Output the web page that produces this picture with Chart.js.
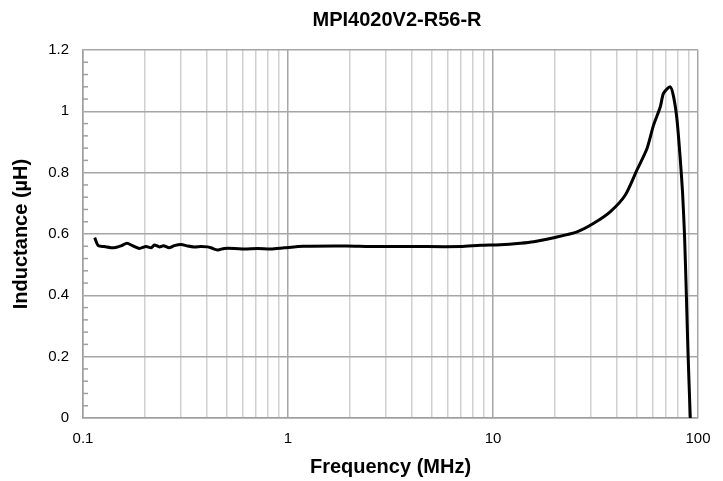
<!DOCTYPE html>
<html><head><meta charset="utf-8">
<script src="https://cdn.jsdelivr.net/npm/chart.js@4.4.0/dist/chart.umd.min.js"></script>
<style>html,body{margin:0;padding:0;background:#fff;overflow:hidden;}</style>
</head><body>
<canvas id="c" width="723" height="481" style="width:723px;height:481px;display:block"></canvas>
<script>
const chartTitle = 'MPI4020V2-R56-R';
const xAxisTitle = 'Frequency (MHz)';
const yAxisTitle = 'Inductance (µH)';
const xTickLabels = ['0.1', '1', '10', '100'];
const yTickLabels = ['0', '0.2', '0.4', '0.6', '0.8', '1', '1.2'];
const frequencyMHz = [0.114, 0.1187, 0.127, 0.142, 0.153, 0.164, 0.174, 0.188, 0.203, 0.215, 0.223, 0.236, 0.247, 0.263, 0.279, 0.301, 0.324, 0.349, 0.376, 0.405, 0.421, 0.453, 0.489, 0.548, 0.613, 0.711, 0.825, 0.96, 1.19, 1.94, 2.52, 4.10, 6.93, 8.67, 10.85, 13.6, 15.8, 19.8, 25.7, 31, 37.4, 44.2, 50.4, 56.4, 60.7, 65.5, 67.9, 73.2, 76.0, 79.0, 82.0, 84.1, 86.0, 87.7, 89.4, 91.7];
const inductanceUH = [0.588, 0.562, 0.559, 0.555, 0.561, 0.570, 0.562, 0.553, 0.559, 0.555, 0.564, 0.558, 0.562, 0.555, 0.562, 0.566, 0.561, 0.558, 0.559, 0.558, 0.555, 0.548, 0.553, 0.553, 0.551, 0.553, 0.551, 0.555, 0.560, 0.561, 0.559, 0.559, 0.559, 0.563, 0.565, 0.570, 0.575, 0.588, 0.607, 0.635, 0.673, 0.727, 0.809, 0.879, 0.955, 1.015, 1.059, 1.080, 1.048, 0.972, 0.841, 0.733, 0.591, 0.407, 0.211, 0.0];

Chart.defaults.font.family = '"Liberation Sans", Arial, sans-serif';
Chart.defaults.color = '#000';

function labelFor(list, v) {
  for (const l of list) { if (Math.abs(Number(l) - v) < 1e-6 * Math.max(1, Math.abs(v))) return l; }
  return '';
}
function isDecade(v) { return labelFor(xTickLabels, v) !== ''; }

const decorPlugin = {
  id: 'decor',
  afterDraw(chart) {
    const ctx = chart.ctx;
    const y = chart.scales.y;
    const left = chart.chartArea.left;
    ctx.save();
    ctx.strokeStyle = '#a0a0a0';
    ctx.lineWidth = 1.5;
    for (let i = 0; i <= 30; i++) {
      if (i % 5 === 0) continue;
      const py = y.getPixelForValue(i * 0.04);
      ctx.beginPath();
      ctx.moveTo(left, py);
      ctx.lineTo(left + 5, py);
      ctx.stroke();
    }
    ctx.fillStyle = '#000';
    ctx.font = 'bold 20px "Liberation Sans", Arial, sans-serif';
    ctx.textAlign = 'center';
    ctx.textBaseline = 'middle';
    ctx.fillText(chartTitle, 397, 20);
    ctx.restore();
  }
};

new Chart(document.getElementById('c'), {
  type: 'line',
  data: {
    datasets: [{
      data: frequencyMHz.map((f, i) => ({ x: f, y: inductanceUH[i] })),
      borderColor: '#000',
      borderWidth: 3,
      pointRadius: 0,
      tension: 0.25,
      fill: false
    }]
  },
  options: {
    responsive: false,
    animation: false,
    devicePixelRatio: 1,
    layout: { padding: { top: 50, right: 25, left: 0, bottom: 0 } },
    plugins: { legend: { display: false }, tooltip: { enabled: false }, title: { display: false } },
    scales: {
      x: {
        type: 'logarithmic',
        min: 0.1, max: 100,
        afterBuildTicks(scale) {
          const t = [];
          for (const d of [0.1, 1, 10]) for (let k = 1; k <= 9; k++) t.push({ value: d * k });
          t.push({ value: 100 });
          scale.ticks = t;
        },
        afterFit(scale) { scale.height = 63; },
        ticks: {
          autoSkip: false, maxRotation: 0, minRotation: 0, padding: 12,
          font: { size: 15 },
          callback: (v) => labelFor(xTickLabels, v)
        },
        grid: {
          drawTicks: false,
          color: (c) => (c.tick && isDecade(c.tick.value)) ? '#a6a6a6' : '#d0d0d0',
          lineWidth: 1.5
        },
        border: { color: '#a0a0a0', width: 1.5 },
        title: { display: true, text: xAxisTitle, font: { size: 20, weight: 'bold' }, padding: { top: 0, bottom: 2 } }
      },
      y: {
        min: 0, max: 1.2,
        afterFit(scale) { scale.width = 83; },
        ticks: {
          stepSize: 0.2, padding: 14, font: { size: 15 },
          callback: (v) => labelFor(yTickLabels, v)
        },
        grid: { drawTicks: false, color: '#a6a6a6', lineWidth: 1.5 },
        border: { color: '#a0a0a0', width: 1.5 },
        title: { display: true, text: yAxisTitle, font: { size: 20, weight: 'bold' }, padding: { top: 9, bottom: 0 } }
      }
    }
  },
  plugins: [decorPlugin]
});
</script>
</body></html>
